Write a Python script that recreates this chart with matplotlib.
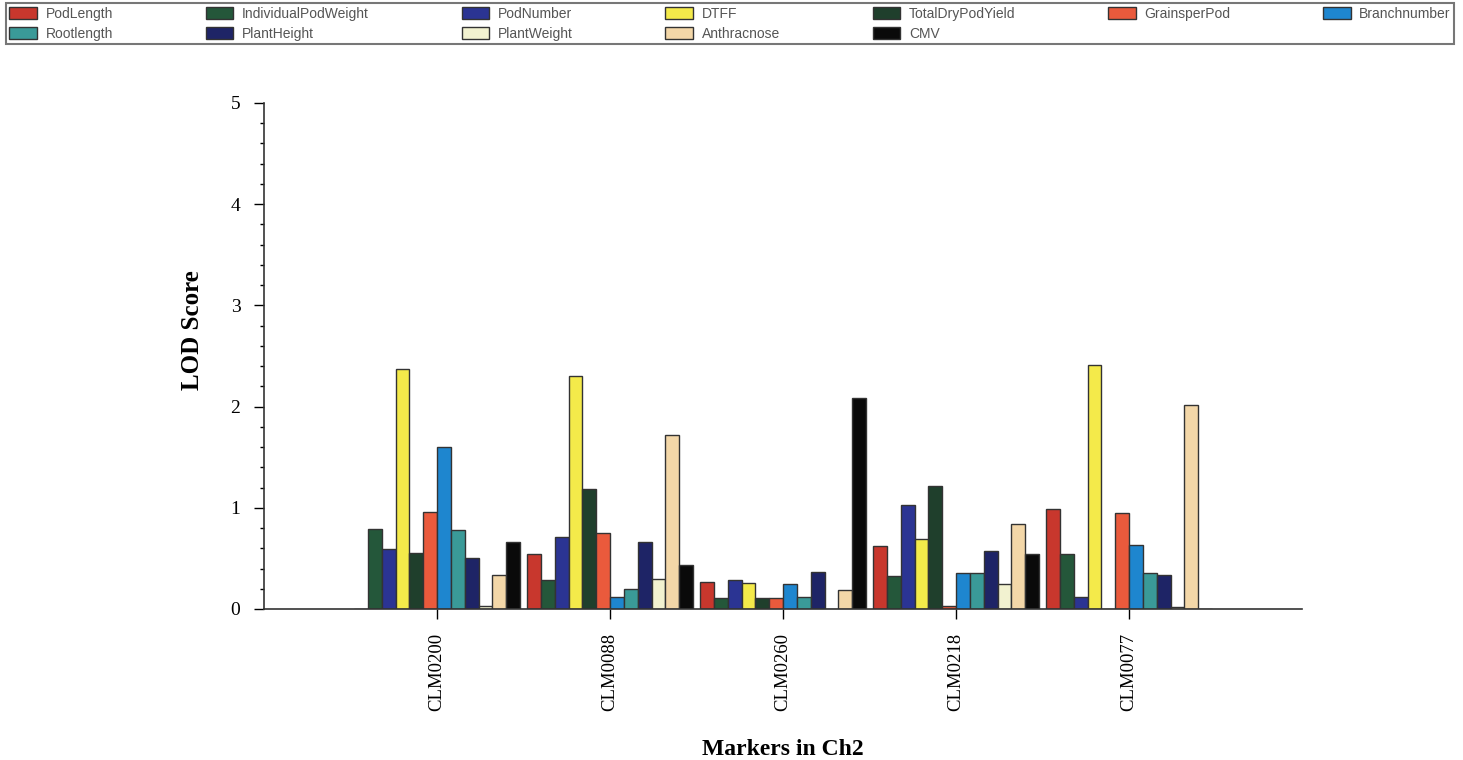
import numpy as np
import matplotlib
matplotlib.use('Agg')
from matplotlib import pyplot as plt
from matplotlib.ticker import MultipleLocator

# marker names on the x axis
markers = ['CLM0200', 'CLM0088', 'CLM0260', 'CLM0218', 'CLM0077']

# LOD score of each trait at each marker
PodLength = [0.0, 0.54, 0.27, 0.62, 0.99]
IndividualPodWeight = [0.79, 0.29, 0.11, 0.33, 0.54]
PodNumber = [0.59, 0.71, 0.29, 1.03, 0.12]
DTFF = [2.37, 2.30, 0.26, 0.69, 2.41]
TotalDryPodYield = [0.55, 1.19, 0.11, 1.22, 0.0]
GrainsperPod = [0.96, 0.75, 0.11, 0.03, 0.95]
Branchnumber = [1.60, 0.12, 0.25, 0.36, 0.63]
Rootlength = [0.78, 0.20, 0.12, 0.36, 0.36]
PlantHeight = [0.50, 0.66, 0.37, 0.57, 0.34]
PlantWeight = [0.03, 0.30, 0.0, 0.25, 0.02]
Anthracnose = [0.34, 1.72, 0.19, 0.84, 2.02]
CMV = [0.66, 0.43, 2.08, 0.54, 0.0]

traits = ['PodLength', 'IndividualPodWeight', 'PodNumber', 'DTFF', 'TotalDryPodYield',
          'GrainsperPod', 'Branchnumber', 'Rootlength', 'PlantHeight', 'PlantWeight',
          'Anthracnose', 'CMV']
series = [PodLength, IndividualPodWeight, PodNumber, DTFF, TotalDryPodYield,
          GrainsperPod, Branchnumber, Rootlength, PlantHeight, PlantWeight,
          Anthracnose, CMV]
colors = ['#c8372d', '#24573a', '#2b3493', '#f4ea4a', '#1f3f2c', '#ea5a3c',
          '#1e86cf', '#3a9a98', '#1e2466', '#f2f2d0', '#f3d7a8', '#0a0a0a']

fig = plt.figure(figsize=(14.63, 7.6), dpi=100)
ax = fig.add_axes([0.1805, 0.1987, 0.7095, 0.6658])

x = np.arange(len(markers))
w = 0.08
bars = []
for i, (name, vals, c) in enumerate(zip(traits, series, colors)):
    b = ax.bar(x + (i - 5.5) * w, vals, w, color=c, edgecolor='#333333',
               linewidth=1, label=name)
    bars.append(b)

ax.set_xlim(-1, 5)
ax.set_ylim(0, 5)
ax.spines['top'].set_visible(False)
ax.spines['right'].set_visible(False)
for s in ['left', 'bottom']:
    ax.spines[s].set_color('#333333')
    ax.spines[s].set_linewidth(1.2)

ax.yaxis.set_major_locator(MultipleLocator(1))
ax.yaxis.set_minor_locator(MultipleLocator(0.2))
ax.tick_params(axis='y', which='major', length=7, width=1, pad=10, labelsize=14)
ax.tick_params(axis='y', which='minor', length=3, width=1)
ax.set_xticks(x)
ax.set_xticklabels(markers, rotation=90, fontsize=13.5, family='Liberation Serif')
ax.tick_params(axis='x', length=7, width=1, pad=10)
for t in ax.get_yticklabels():
    t.set_family('Liberation Serif')

ax.set_ylabel('LOD Score', family='Liberation Serif', fontweight='bold',
              fontsize=18)
ax.yaxis.set_label_coords(-0.058, 0.551)
ax.set_xlabel('Markers in Ch2', family='Liberation Serif', fontweight='bold',
              fontsize=17, labelpad=20)

# legend fills row by row: reorder for matplotlib's column-major layout
order = [0, 7, 1, 8, 2, 9, 3, 10, 4, 11, 5, 6]
leg = fig.legend([bars[k] for k in order], [traits[k] for k in order],
                 loc='upper left', bbox_to_anchor=(0.004, 0.996, 0.99, 0.0),
                 mode='expand', ncol=7, frameon=True, borderaxespad=0,
                 handlelength=2.0, handleheight=1.0, handletextpad=0.6,
                 labelspacing=0.45, borderpad=0.25, fancybox=False,
                 prop={'family': 'Liberation Sans', 'size': 10})
leg.get_frame().set_edgecolor('#555555')
leg.get_frame().set_linewidth(1.5)
for t in leg.get_texts():
    t.set_color('#555555')

fig.savefig('out.png', dpi=100)
